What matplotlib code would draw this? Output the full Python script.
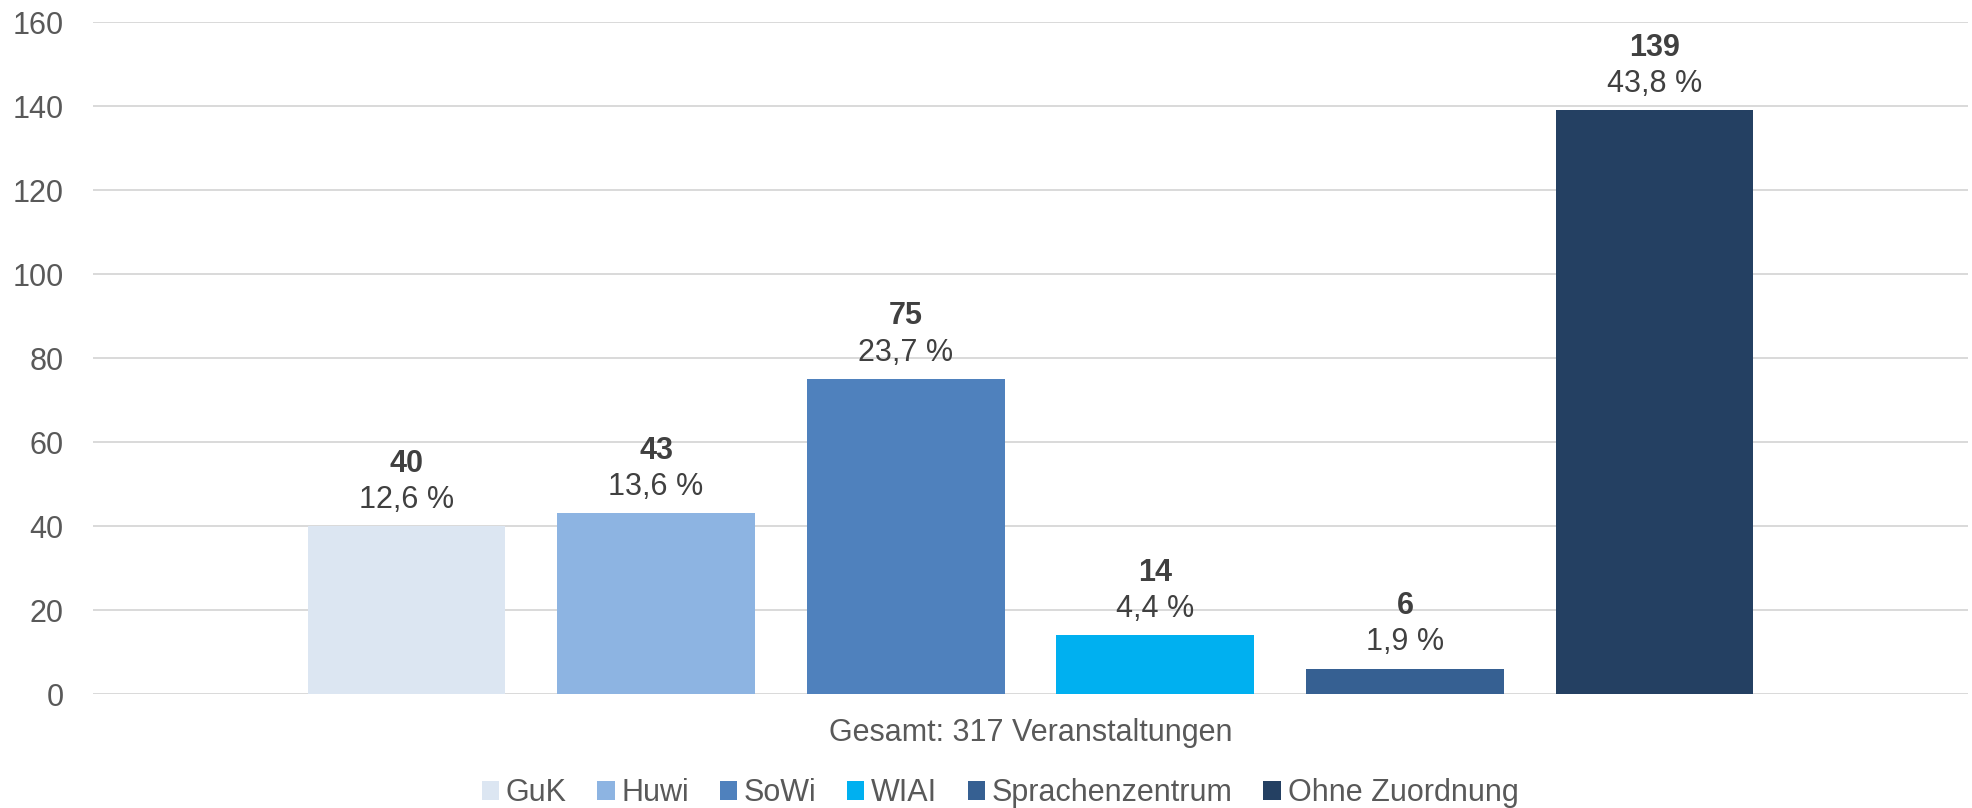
import matplotlib
import matplotlib.pyplot as plt

matplotlib.use('agg')

categories = ['GuK', 'Huwi', 'SoWi', 'WIAI', 'Sprachenzentrum', 'Ohne Zuordnung']
counts = [40, 43, 75, 14, 6, 139]
shares = ['12,6 %', '13,6 %', '23,7 %', '4,4 %', '1,9 %', '43,8 %']
colors = ['#DCE6F2', '#8DB4E2', '#4F81BD', '#00B0F0', '#366092', '#244062']
total_label = 'Gesamt: 317 Veranstaltungen'

plt.rcParams['font.family'] = ['Liberation Sans', 'DejaVu Sans']

px = 1 / 100
fig = plt.figure(figsize=(1972 * px, 808 * px), dpi=100, facecolor='white')
ax = fig.add_axes([93 / 1972, 1 - 694 / 808, 1875 / 1972, 672 / 808])

pos = list(range(len(categories)))
bars = ax.bar(pos, counts, width=0.793, color=colors, label=categories, zorder=3)

# count (bold) and share above each bar
for x, n, s in zip(pos, counts, shares):
    ax.annotate(str(n), (x, n), xytext=(0, 45), textcoords='offset points',
                ha='center', va='center', fontsize=22, fontweight='bold', color='#404040')
    ax.annotate(s, (x, n), xytext=(0, 19), textcoords='offset points',
                ha='center', va='center', fontsize=22, color='#404040')

ax.set_xlim(-1.256, len(categories) - 1 + 1.256)
ax.set_ylim(0, 160)
ax.set_yticks(range(0, 161, 20))
ax.grid(axis='y', color='#D9D9D9', linewidth=1.4, zorder=0)
ax.tick_params(axis='y', length=0, pad=21, labelsize=22, labelcolor='#595959')
ax.set_xticks([])
for sp in ax.spines.values():
    sp.set_visible(False)

ax.annotate(total_label, (2.5, 0), xytext=(0, -28), textcoords='offset points',
            ha='center', va='center', fontsize=22, color='#595959')

fig.legend(handles=bars, labels=categories, loc='center', ncol=6,
           bbox_to_anchor=(1000 / 1972, 1 - 793 / 808), frameon=False,
           fontsize=22, labelcolor='#595959', handlelength=0.56, handleheight=0.56,
           handletextpad=0.23, columnspacing=1.0, borderpad=0)

plt.savefig('out.png', dpi=100)
